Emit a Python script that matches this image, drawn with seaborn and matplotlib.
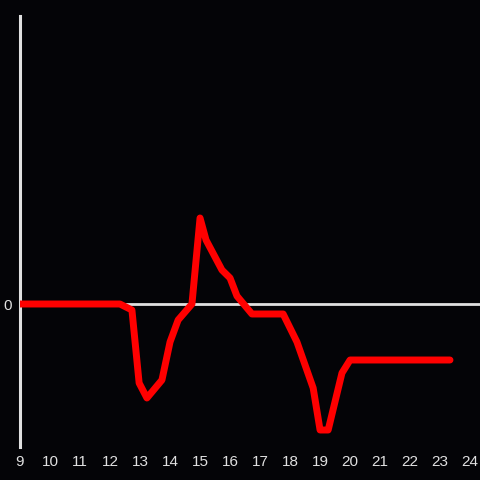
import numpy as np
import matplotlib
matplotlib.use('Agg')
import matplotlib.pyplot as plt
import seaborn as sns
import pandas as pd

bgColor = '#040407'
axisColor = '#e0e0e0'
lineColor = '#ff0000'

hours = [9.0, 12.33, 12.73, 12.97, 13.23, 13.73, 14.0, 14.27, 14.73, 15.0, 15.2,
         15.73, 16.0, 16.23, 16.73, 17.77, 18.23, 18.77, 19.0, 19.27, 19.73, 20.0, 23.33]
values = [0.0, 0.0, -0.06, -0.79, -0.94, -0.76, -0.38, -0.16, 0.0, 0.86, 0.64,
          0.34, 0.26, 0.08, -0.10, -0.10, -0.38, -0.84, -1.26, -1.26, -0.69, -0.56, -0.56]
xTicks = list(range(9, 25))

df = pd.DataFrame({'hour': hours, 'value': values})

sns.set_style('dark')
plt.rcParams['font.family'] = ['Liberation Sans', 'DejaVu Sans']

fig = plt.figure(figsize=(4.8, 4.8), dpi=100, facecolor=bgColor)
ax = fig.add_axes([20 / 480, 33 / 480, 460 / 480, 431 / 480])
ax.set_facecolor(bgColor)

ax.axhline(0, color=axisColor, lw=2, zorder=1)
sns.lineplot(data=df, x='hour', y='value', ax=ax, color=lineColor, lw=5, zorder=3)

ax.set_xlim(9, 24.33)
ax.set_ylim(-1.43, 2.88)
ax.set_xticks(xTicks)
ax.set_yticks([0])
ax.tick_params(colors=axisColor, labelsize=11, length=0, pad=6)
ax.grid(False)
ax.set_xlabel('')
ax.set_ylabel('')
for s in ['top', 'right', 'bottom']:
	ax.spines[s].set_visible(False)
ax.spines['left'].set_color(axisColor)
ax.spines['left'].set_linewidth(2.2)

fig.savefig('out.png', dpi=100, facecolor=bgColor)
